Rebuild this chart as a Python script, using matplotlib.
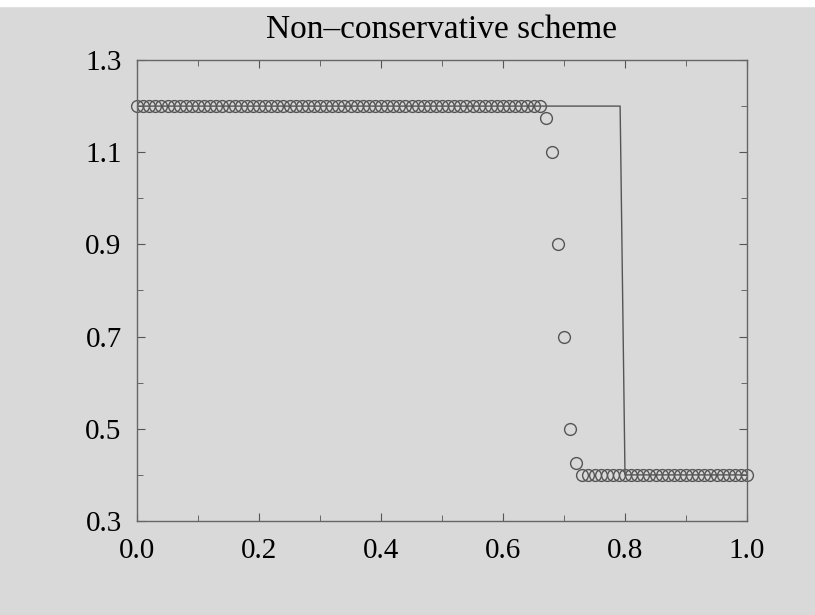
import numpy as np
import matplotlib.pyplot as plt

# schéma non conservatif : solution numérique (cercles) et solution exacte (ligne)
x_num = np.round(np.arange(101) * 0.01, 2)
u_num = [1.2] * 67 + [1.175, 1.1, 0.9, 0.7, 0.5, 0.425] + [0.4] * 28

x_exact = [0.0, 0.792, 0.80, 1.0]
u_exact = [1.2, 1.2, 0.4, 0.4]

plt.rcParams['font.family'] = ['Liberation Serif', 'DejaVu Serif']
bg = '#d9d9d9'

fig = plt.figure(figsize=(8.15, 6.15), dpi=100, facecolor=bg)
ax = fig.add_axes([137/815, 1 - 521/615, 610/815, 461/615])
ax.set_facecolor(bg)

ax.plot(x_exact, u_exact, color='#555555', lw=1.0)
ax.plot(x_num, u_num, 'o', mfc='none', mec='#555555', ms=8.5, mew=1.0, clip_on=False)

ax.set_xlim(0, 1)
ax.set_ylim(0.3, 1.3)
ax.set_xticks(np.arange(0, 1.01, 0.2))
ax.set_xticks(np.arange(0.1, 1.0, 0.2), minor=True)
ax.set_yticks(np.arange(0.3, 1.31, 0.2))
ax.set_yticks(np.arange(0.4, 1.3, 0.2), minor=True)
ax.set_xticklabels(['0.0', '0.2', '0.4', '0.6', '0.8', '1.0'])
ax.set_yticklabels(['0.3', '0.5', '0.7', '0.9', '1.1', '1.3'])
ax.tick_params(which='both', direction='in', top=True, right=True,
               color='#555555', labelsize=21)
ax.tick_params(axis='x', pad=12)
ax.tick_params(axis='y', pad=11)
ax.tick_params(which='major', length=6)
ax.tick_params(which='minor', length=4)
for s in ax.spines.values():
    s.set_color('#666666')
    s.set_linewidth(1.0)

ax.set_title('Non\u2013conservative scheme', fontsize=24, pad=16)

# bande blanche en haut de l'image
fig.patches.append(plt.Rectangle((0, 1 - 6/615), 1, 6/615, transform=fig.transFigure,
                                 color='white', zorder=-1))

fig.savefig('out.png', dpi=100, facecolor=bg)
